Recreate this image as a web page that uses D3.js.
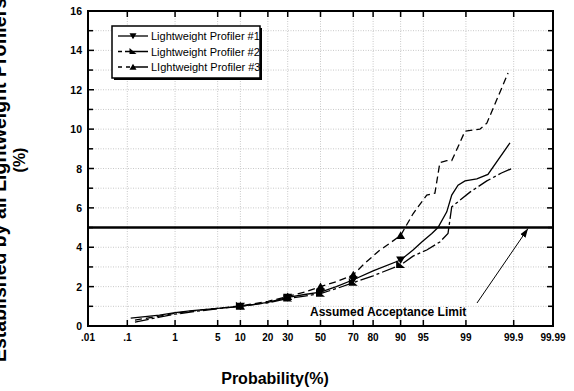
<!DOCTYPE html>
<html>
<head>
<meta charset="utf-8">
<script src="https://cdn.jsdelivr.net/npm/d3@7"></script>
<style>
  body { margin: 0; background: #fff; }
  svg { font-family: Arial, "Liberation Sans", sans-serif; }
</style>
</head>
<body>
<div class="chart"></div>
<script>
// data (probability in %, value in %)
const xTickLabels = [".01", ".1", "1", "5", "10", "20", "30", "50", "70", "80", "90", "95", "99", "99.9", "99.99"];
const xTickProbs = [0.01, 0.1, 1, 5, 10, 20, 30, 50, 70, 80, 90, 95, 99, 99.9, 99.99];
const yTicks = [0, 2, 4, 6, 8, 10, 12, 14, 16];
const markerProbs = [10, 30, 50, 70, 90];

const p1 = [0.12, 0.5, 1, 2, 5, 10, 20, 30, 40, 50, 60, 70, 80, 90, 93.06, 94.74, 96.25, 96.99, 97.83, 98.21, 98.61, 98.96, 99.38, 99.63, 99.878];
const v1 = [0.4, 0.55, 0.68, 0.78, 0.9, 1.0, 1.2, 1.45, 1.6, 1.72, 2.0, 2.35, 2.8, 3.35, 3.86, 4.27, 4.7, 5.0, 5.8, 6.65, 7.15, 7.37, 7.47, 7.7, 9.3];

const p2 = [0.15, 0.5, 1, 2, 5, 10, 20, 30, 40, 50, 60, 70, 80, 90, 93.06, 95.54, 97.19, 97.93, 98.21, 99.16, 99.61, 99.81, 99.89];
const v2 = [0.2, 0.45, 0.6, 0.72, 0.88, 1.0, 1.18, 1.4, 1.52, 1.65, 1.9, 2.2, 2.55, 3.1, 3.55, 3.86, 4.27, 4.7, 6.05, 6.8, 7.37, 7.77, 8.0];

const p3 = [0.15, 0.5, 1, 2, 5, 10, 20, 30, 40, 50, 60, 70, 75.17, 82.89, 84.13, 90, 93.06, 95.54, 96.64, 97.19, 97.83, 98.21, 98.61, 98.96, 99.46, 99.61, 99.865];
const v3 = [0.3, 0.5, 0.65, 0.76, 0.9, 1.02, 1.25, 1.5, 1.72, 2.0, 2.25, 2.6, 3.1, 3.86, 3.96, 4.6, 5.7, 6.65, 6.75, 8.3, 8.4, 8.4, 9.1, 9.9, 10.0, 10.3, 12.85];

const seriesNames = ["Lightweight Profiler #1", "Lightweight Profiler #2", "LIghtweight Profiler #3"];
const limit = 5;

const width = 574;
const height = 391;
const margin = { left: 88, right: 21, top: 11, bottom: 65 };

// inverse normal cdf (Acklam)
function probit(p) {
  const a = [-3.969683028665376e1, 2.209460984245205e2, -2.759285104469687e2, 1.38357751867269e2, -3.066479806614716e1, 2.506628277459239];
  const b = [-5.447609879822406e1, 1.615858368580409e2, -1.556989798598866e2, 6.680131188771972e1, -1.328068155288572e1];
  const c = [-7.784894002430293e-3, -3.223964580411365e-1, -2.400758277161838, -2.549732539343734, 4.374664141464968, 2.938163982698783];
  const d = [7.784695709041462e-3, 3.224671290700398e-1, 2.445134137142996, 3.754408661907416];
  const pl = 0.02425;
  let q, r;
  if (p < pl) {
    q = Math.sqrt(-2 * Math.log(p));
    return (((((c[0] * q + c[1]) * q + c[2]) * q + c[3]) * q + c[4]) * q + c[5]) / ((((d[0] * q + d[1]) * q + d[2]) * q + d[3]) * q + 1);
  } else if (p <= 1 - pl) {
    q = p - 0.5; r = q * q;
    return (((((a[0] * r + a[1]) * r + a[2]) * r + a[3]) * r + a[4]) * r + a[5]) * q / (((((b[0] * r + b[1]) * r + b[2]) * r + b[3]) * r + b[4]) * r + 1);
  }
  q = Math.sqrt(-2 * Math.log(1 - p));
  return -(((((c[0] * q + c[1]) * q + c[2]) * q + c[3]) * q + c[4]) * q + c[5]) / ((((d[0] * q + d[1]) * q + d[2]) * q + d[3]) * q + 1);
}

const svg = d3.select(".chart").append("svg")
  .attr("width", width)
  .attr("height", height);

const zScale = d3.scaleLinear()
  .domain([probit(0.0001), probit(0.9999)])
  .range([margin.left, width - margin.right]);
const x = (p) => zScale(probit(p / 100));
const y = d3.scaleLinear().domain([0, 16]).range([height - margin.bottom, margin.top]);

const x0 = margin.left, x1 = width - margin.right;
const y0 = height - margin.bottom, y1 = margin.top;

// grid
const grid = svg.append("g").attr("stroke", "#c8c8c8").attr("stroke-width", 1).attr("stroke-dasharray", "1,1.5");
grid.selectAll(".gx").data(xTickProbs.slice(1, -1)).enter().append("line")
  .attr("x1", (d) => x(d)).attr("x2", (d) => x(d)).attr("y1", y1).attr("y2", y0);
grid.selectAll(".gy").data(d3.range(1, 16)).enter().append("line")
  .attr("x1", x0).attr("x2", x1).attr("y1", (d) => y(d)).attr("y2", (d) => y(d));

// ticks (inward, all four sides)
const ticks = svg.append("g").attr("stroke", "#000").attr("stroke-width", 1.5);
xTickProbs.slice(1, -1).forEach((p) => {
  ticks.append("line").attr("x1", x(p)).attr("x2", x(p)).attr("y1", y1).attr("y2", y1 + 6);
  ticks.append("line").attr("x1", x(p)).attr("x2", x(p)).attr("y1", y0).attr("y2", y0 - 6);
});
d3.range(1, 16).forEach((v) => {
  const len = v % 2 === 0 ? 6 : 5;
  ticks.append("line").attr("x1", x0).attr("x2", x0 + len).attr("y1", y(v)).attr("y2", y(v));
  ticks.append("line").attr("x1", x1).attr("x2", x1 - len).attr("y1", y(v)).attr("y2", y(v));
});

// frame
svg.append("rect")
  .attr("x", x0).attr("y", y1)
  .attr("width", x1 - x0).attr("height", y0 - y1)
  .attr("fill", "none").attr("stroke", "#000").attr("stroke-width", 2);

// tick labels
svg.append("g").selectAll("text").data(yTicks).enter().append("text")
  .attr("x", x0 - 6).attr("y", (d) => y(d) + 4)
  .attr("text-anchor", "end")
  .attr("font-size", 10.5).attr("font-weight", "bold")
  .text((d) => d);
svg.append("g").selectAll("text").data(xTickProbs).enter().append("text")
  .attr("x", (d) => x(d)).attr("y", y0 + 15)
  .attr("text-anchor", "middle")
  .attr("font-size", 10).attr("font-weight", "bold")
  .text((d, i) => xTickLabels[i]);

// axis titles
svg.append("text")
  .attr("x", 275).attr("y", 384)
  .attr("text-anchor", "middle")
  .attr("font-size", 16).attr("font-weight", "bold")
  .text("Probability(%)");
// first line runs off the left/top edge, as in the source figure
svg.append("text")
  .attr("transform", "translate(6,362) rotate(-90)")
  .attr("font-size", 19.5).attr("font-weight", "bold")
  .text("Established by all Lightweight Profilers");
svg.append("text")
  .attr("transform", "translate(25,160) rotate(-90)")
  .attr("text-anchor", "middle")
  .attr("font-size", 16).attr("font-weight", "bold")
  .text("(%)");

// acceptance limit
svg.append("line")
  .attr("x1", x0).attr("x2", x1)
  .attr("y1", y(limit)).attr("y2", y(limit))
  .attr("stroke", "#000").attr("stroke-width", 2.5);

// series
const line = d3.line().x((d) => x(d[0])).y((d) => y(d[1]));
const series = [
  { p: p1, v: v1, dash: null, marker: "down" },
  { p: p2, v: v2, dash: "14,3,3,3", marker: "corner" },
  { p: p3, v: v3, dash: "7,4", marker: "up" },
];

function markerPath(type, s) {
  if (type === "down") return `M${-s},${-s * 0.8}L${s},${-s * 0.8}L0,${s * 0.9}Z`;
  if (type === "up") return `M${-s},${s * 0.8}L${s},${s * 0.8}L0,${-s * 0.9}Z`;
  return `M${-s},${-s}L${-s},${s * 0.7}L${s},${s * 0.7}Z`;
}

series.forEach((s) => {
  const pts = s.p.map((p, i) => [p, s.v[i]]);
  svg.append("path")
    .datum(pts)
    .attr("d", line)
    .attr("fill", "none")
    .attr("stroke", "#000")
    .attr("stroke-width", 1.3)
    .attr("stroke-dasharray", s.dash);
  svg.append("g").selectAll("path")
    .data(pts.filter((d) => markerProbs.includes(d[0])))
    .enter().append("path")
    .attr("transform", (d) => `translate(${x(d[0])},${y(d[1])})`)
    .attr("d", markerPath(s.marker, 4.5))
    .attr("fill", "#000");
});

// annotation
svg.append("text")
  .attr("x", 310).attr("y", 316)
  .attr("font-size", 12).attr("font-weight", "bold")
  .text("Assumed Acceptance Limit");
svg.append("defs").append("marker")
  .attr("id", "arrow")
  .attr("viewBox", "0 0 10 10")
  .attr("refX", 10).attr("refY", 5)
  .attr("markerWidth", 9).attr("markerHeight", 9)
  .attr("orient", "auto")
  .append("path").attr("d", "M0,1.5L10,5L0,8.5Z").attr("fill", "#000");
svg.append("line")
  .attr("x1", 477).attr("y1", 303)
  .attr("x2", 528).attr("y2", y(limit) + 1)
  .attr("stroke", "#000").attr("stroke-width", 1)
  .attr("marker-end", "url(#arrow)");

// legend
const lg = svg.append("g").attr("transform", "translate(112,26)");
lg.append("rect").attr("x", 2).attr("y", 2).attr("width", 148).attr("height", 52).attr("fill", "#000");
lg.append("rect").attr("x", 0).attr("y", 0).attr("width", 148).attr("height", 52)
  .attr("fill", "#fff").attr("stroke", "#000").attr("stroke-width", 1.5);
series.forEach((s, i) => {
  const ly = 10 + i * 15.5;
  lg.append("line")
    .attr("x1", 6).attr("x2", 36).attr("y1", ly).attr("y2", ly)
    .attr("stroke", "#000").attr("stroke-width", 1.3)
    .attr("stroke-dasharray", i === 0 ? null : i === 1 ? "4,3,30" : "4,4,4,2,30");
  lg.append("path")
    .attr("transform", `translate(21,${ly})`)
    .attr("d", markerPath(s.marker, 3.5))
    .attr("fill", "#000");
  lg.append("text")
    .attr("x", 39).attr("y", ly + 4)
    .attr("font-size", 11)
    .text(seriesNames[i]);
});
</script>
</body>
</html>
